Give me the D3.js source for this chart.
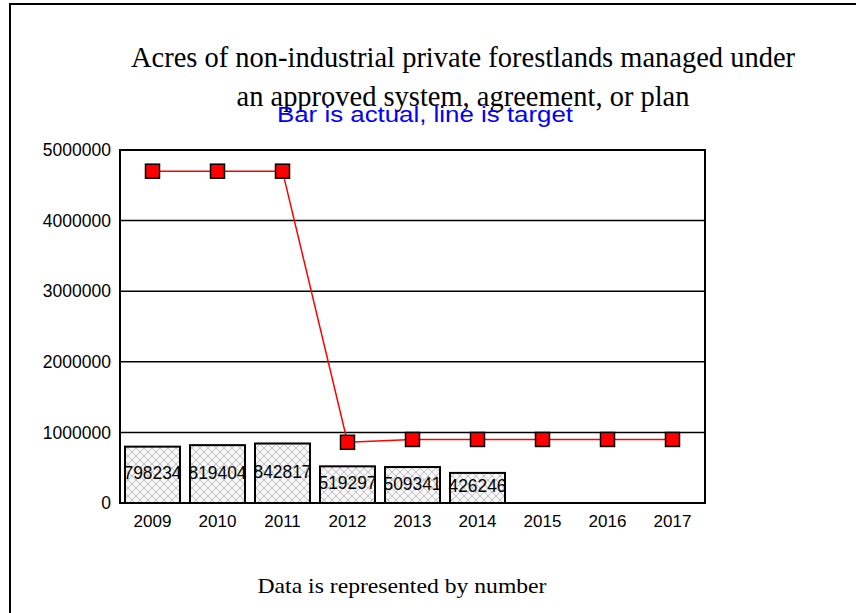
<!DOCTYPE html>
<html><head><meta charset="utf-8">
<script src="https://cdn.jsdelivr.net/npm/d3@7"></script>
<style>body{margin:0;background:#fff;} svg{display:block;}</style>
</head><body>
<svg id="chart" width="856" height="613"></svg>
<script>
const years = ["2009","2010","2011","2012","2013","2014","2015","2016","2017"];
const actual = [798234, 819404, 842817, 519297, 509341, 426246, null, null, null];
const target = [4700000, 4700000, 4700000, 860000, 900000, 900000, 900000, 900000, 900000];
const yTicks = [0, 1000000, 2000000, 3000000, 4000000, 5000000];
const titleLines = ["Acres of non-industrial private forestlands managed under", "an approved system, agreement, or plan"];
const subtitle = "Bar is actual, line is target";
const footer = "Data is represented by number";

const svg = d3.select("#chart");
const defs = svg.append("defs");
const pat = defs.append("pattern").attr("id","hatch").attr("patternUnits","userSpaceOnUse")
  .attr("width",8).attr("height",8);
pat.append("rect").attr("width",8).attr("height",8).attr("fill","#f6f6f6");
pat.append("path").attr("d","M0,0 L8,8 M8,0 L0,8").attr("stroke","#b4b4b4").attr("stroke-width",0.8);

// outer frame
svg.append("path").attr("d","M10,620 L10,4 L860,4").attr("fill","none").attr("stroke","#000").attr("stroke-width",2);

const L=120, R=705, T=150, B=503;
const xc = d3.scaleBand().domain(years).range([L,R]);
const y = d3.scaleLinear().domain([0,5000000]).range([B,T]);
const sans = "Liberation Sans, Arial, sans-serif";
const serif = "Liberation Serif, Times New Roman, serif";

// gridlines
svg.append("g").selectAll("line").data(yTicks.filter(d=>d>0 && d<5000000)).join("line")
  .attr("x1",L).attr("x2",R).attr("y1",d=>y(d)).attr("y2",d=>y(d))
  .attr("stroke","#000").attr("stroke-width",1.5);

// bars
const bd = years.map((yr,i)=>({yr, v:actual[i]})).filter(d=>d.v!=null);
svg.append("g").selectAll("rect").data(bd).join("rect")
  .attr("x",d=>xc(d.yr)+5).attr("width",xc.bandwidth()-10)
  .attr("y",d=>y(d.v)).attr("height",d=>B-y(d.v))
  .attr("fill","url(#hatch)").attr("stroke","#000").attr("stroke-width",2);
svg.append("g").selectAll("text").data(bd).join("text")
  .attr("x",d=>xc(d.yr)+xc.bandwidth()/2).attr("y",d=>(y(d.v)+B)/2-2)
  .attr("text-anchor","middle").attr("dominant-baseline","central")
  .attr("font-family",sans).attr("font-size",19)
  .attr("textLength",58).attr("lengthAdjust","spacingAndGlyphs")
  .text(d=>d.v);

// plot frame
svg.append("rect").attr("x",L).attr("y",T).attr("width",R-L).attr("height",B-T)
  .attr("fill","none").attr("stroke","#000").attr("stroke-width",2);

// target line
const ld = years.map((yr,i)=>({yr, v:target[i]}));
svg.append("path").datum(ld)
  .attr("d", d3.line().x(d=>xc(d.yr)+xc.bandwidth()/2).y(d=>y(d.v)))
  .attr("fill","none").attr("stroke","#f00").attr("stroke-width",1.5);
svg.append("g").selectAll("rect").data(ld).join("rect")
  .attr("x",d=>xc(d.yr)+xc.bandwidth()/2-7).attr("y",d=>y(d.v)-7)
  .attr("width",14).attr("height",14)
  .attr("fill","#f00").attr("stroke","#000").attr("stroke-width",1.5);

// axes labels
const yAxis = d3.axisLeft(y).tickValues(yTicks).tickSize(0).tickPadding(9).tickFormat(d3.format("d"));
const gy = svg.append("g").attr("transform",`translate(${L},0)`).call(yAxis);
gy.select(".domain").remove();
gy.selectAll("text").attr("font-family",sans).attr("font-size",17.5).attr("fill","#000");

const xAxis = d3.axisBottom(xc).tickSize(0).tickPadding(12);
const gx = svg.append("g").attr("transform",`translate(0,${B})`).call(xAxis);
gx.select(".domain").remove();
gx.selectAll("text").attr("font-family",sans).attr("font-size",17).attr("fill","#000");

// titles
const titleLens = [664, 453];
svg.append("g").selectAll("text").data(titleLines).join("text")
  .attr("x",463).attr("y",(d,i)=>67+i*39).attr("text-anchor","middle")
  .attr("font-family",serif).attr("font-size",30)
  .attr("textLength",(d,i)=>titleLens[i]).attr("lengthAdjust","spacingAndGlyphs")
  .text(d=>d);
svg.append("text").attr("x",425).attr("y",122).attr("text-anchor","middle")
  .attr("font-family",sans).attr("font-size",22).attr("fill","#0000ff")
  .attr("textLength",296).attr("lengthAdjust","spacingAndGlyphs")
  .text(subtitle);
svg.append("text").attr("x",402).attr("y",593).attr("text-anchor","middle")
  .attr("font-family",serif).attr("font-size",21)
  .attr("textLength",289).attr("lengthAdjust","spacingAndGlyphs")
  .text(footer);
</script>
</body></html>
